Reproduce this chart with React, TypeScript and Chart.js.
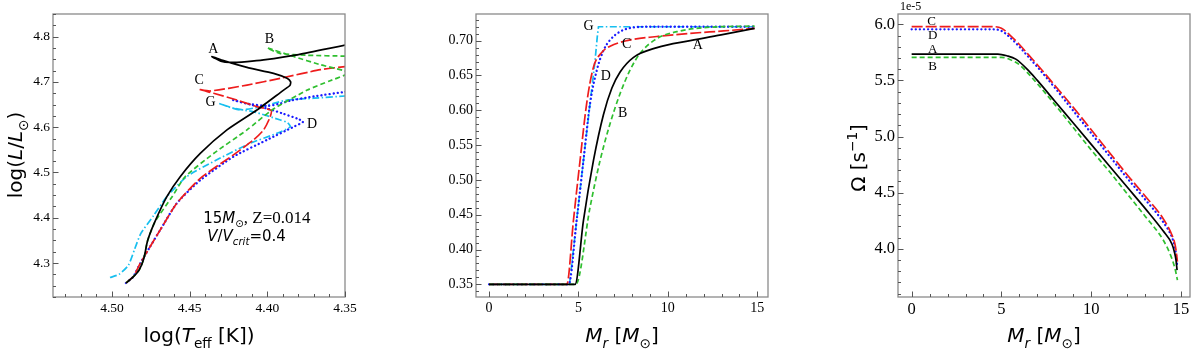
import React, { useEffect, useRef } from "react";
import { Chart, registerables } from "chart.js";
Chart.register(...registerables);

// ---------- Panel 1: HR diagram ----------
const HR_X_TICKS = [4.5, 4.45, 4.4, 4.35];
const HR_Y_TICKS = [4.3, 4.4, 4.5, 4.6, 4.7, 4.8];
const A_LOGT = [4.491, 4.4865, 4.4825, 4.4795, 4.4772, 4.4728, 4.4647, 4.4561, 4.4432, 4.426, 4.4067, 4.3895, 4.3855, 4.385, 4.3873, 4.396, 4.4131, 4.4282, 4.4357, 4.43, 4.4239, 4.413, 4.4024, 4.3809, 4.3497, 4.34];
const A_LOGL = [4.256, 4.269, 4.285, 4.31, 4.348, 4.388, 4.4465, 4.4907, 4.542, 4.594, 4.638, 4.682, 4.692, 4.7, 4.708, 4.719, 4.732, 4.747, 4.756, 4.746, 4.743, 4.745, 4.7485, 4.7596, 4.7817, 4.786];
const B_LOGT = [4.491, 4.4865, 4.4825, 4.4795, 4.4772, 4.4725, 4.4613, 4.4531, 4.4346, 4.4131, 4.397, 4.3743, 4.36, 4.35, 4.347, 4.3508, 4.3658, 4.383, 4.4, 4.392, 4.375, 4.35, 4.34];
const B_LOGL = [4.256, 4.269, 4.285, 4.31, 4.348, 4.39, 4.4465, 4.49, 4.542, 4.594, 4.638, 4.682, 4.702, 4.715, 4.72, 4.725, 4.738, 4.756, 4.775, 4.763, 4.759, 4.757, 4.757];
const C_LOGT = [4.491, 4.4863, 4.4819, 4.4755, 4.469, 4.4583, 4.4432, 4.4218, 4.4089, 4.4024, 4.3985, 4.3975, 4.4067, 4.4196, 4.4346, 4.4443, 4.4368, 4.4131, 4.3916, 4.3658, 4.3497, 4.34];
const C_LOGL = [4.256, 4.27, 4.299, 4.336, 4.373, 4.432, 4.487, 4.539, 4.572, 4.594, 4.62, 4.637, 4.6455, 4.66, 4.675, 4.684, 4.68, 4.693, 4.708, 4.727, 4.734, 4.738];
const D_LOGT = [4.491, 4.4863, 4.4819, 4.4755, 4.469, 4.4583, 4.4432, 4.4218, 4.4002, 4.383, 4.377, 4.38, 4.39, 4.4, 4.411, 4.422, 4.413, 4.4, 4.392, 4.385, 4.37, 4.35, 4.34];
const D_LOGL = [4.256, 4.27, 4.299, 4.336, 4.373, 4.432, 4.483, 4.535, 4.572, 4.601, 4.612, 4.618, 4.63, 4.641, 4.65, 4.66, 4.652, 4.647, 4.652, 4.659, 4.668, 4.678, 4.683];
const G_LOGT = [4.5013, 4.4955, 4.4895, 4.4855, 4.4815, 4.4734, 4.4647, 4.4518, 4.4325, 4.411, 4.3938, 4.3852, 4.387, 4.3916, 4.4089, 4.4218, 4.4315, 4.425, 4.4174, 4.4045, 4.3873, 4.37, 4.3497, 4.34];
const G_LOGL = [4.268, 4.275, 4.295, 4.33, 4.365, 4.404, 4.4465, 4.491, 4.528, 4.5645, 4.5866, 4.601, 4.61, 4.616, 4.634, 4.642, 4.653, 4.645, 4.638, 4.645, 4.66, 4.664, 4.669, 4.671];
const HR_LABELS = ["A", "B", "C", "G", "D"];
const HR_LABEL_T = [4.4348, 4.3987, 4.4439, 4.4365, 4.3712];
const HR_LABEL_L = [4.773, 4.793, 4.704, 4.656, 4.607];

// ---------- Panel 2: hydrogen profile ----------
const H_X_TICKS = [0, 5, 10, 15];
const H_Y_TICKS = [0.35, 0.4, 0.45, 0.5, 0.55, 0.6, 0.65, 0.7];
const A_HM = [0, 4.81, 5.28, 5.84, 6.4, 6.87, 7.33, 8.08, 9.39, 11.25, 13.12, 14.85];
const A_HX = [0.35, 0.35, 0.442, 0.528, 0.594, 0.632, 0.655, 0.676, 0.69, 0.7, 0.709, 0.7176];
const B_HM = [0, 4.85, 5.65, 6.21, 6.77, 7.33, 7.89, 8.45, 9.39, 10.69, 12.18, 14.85];
const B_HX = [0.35, 0.35, 0.461, 0.528, 0.581, 0.624, 0.658, 0.682, 0.703, 0.714, 0.719, 0.721];
const C_HM = [0, 4.35, 4.72, 5.09, 5.46, 5.84, 6.3, 6.77, 7.7, 9.39, 11.25, 13.12, 14.85];
const C_HX = [0.35, 0.35, 0.442, 0.528, 0.61, 0.662, 0.683, 0.692, 0.7, 0.706, 0.7105, 0.714, 0.7176];
const D_HM = [0, 4.45, 4.9, 5.28, 5.65, 6.03, 6.4, 6.77, 7.33, 8.08, 9.0, 14.85];
const D_HX = [0.35, 0.35, 0.442, 0.528, 0.61, 0.658, 0.686, 0.701, 0.713, 0.719, 0.72, 0.72];
const G_HM = [0, 4.5, 4.9, 5.28, 5.65, 5.93, 6.05, 6.12, 14.85];
const G_HX = [0.35, 0.35, 0.442, 0.528, 0.61, 0.672, 0.705, 0.72, 0.72];
const H_LABELS = ["G", "C", "A", "D", "B"];
const H_LABEL_M = [5.56, 7.7, 11.68, 6.53, 7.47];
const H_LABEL_X = [0.721, 0.695, 0.694, 0.649, 0.5956];

// ---------- Panel 3: angular velocity (units of 1e-5 s^-1) ----------
const W_X_TICKS = [0, 5, 10, 15];
const W_Y_TICKS = [4.0, 4.5, 5.0, 5.5, 6.0];
const A_WM = [0, 4.8, 5.3, 5.8, 6.5, 7, 8, 9, 10, 11, 12, 13, 14, 14.5, 14.65, 14.72, 14.78];
const A_WV = [5.735, 5.735, 5.72, 5.69, 5.59, 5.5, 5.31, 5.12, 4.93, 4.74, 4.55, 4.36, 4.16, 4.04, 3.96, 3.9, 3.81];
const B_WM = [0, 5.0, 5.5, 6, 6.5, 7, 8, 9, 10, 11, 12, 13, 14, 14.4, 14.6, 14.7, 14.8];
const B_WV = [5.706, 5.706, 5.685, 5.64, 5.56, 5.47, 5.28, 5.08, 4.88, 4.69, 4.49, 4.29, 4.08, 3.95, 3.86, 3.8, 3.72];
const C_WM = [0, 4.5, 5.0, 5.5, 6, 6.5, 7, 8, 9, 10, 11, 12, 13, 14, 14.5, 14.65, 14.72, 14.8];
const C_WV = [5.979, 5.979, 5.965, 5.9, 5.82, 5.73, 5.64, 5.45, 5.26, 5.06, 4.86, 4.66, 4.47, 4.27, 4.12, 4.05, 3.99, 3.885];
const D_WM = [0, 4.5, 5.0, 5.5, 6, 6.5, 7, 8, 9, 10, 11, 12, 13, 14, 14.5, 14.65, 14.72, 14.78];
const D_WV = [5.955, 5.955, 5.942, 5.88, 5.8, 5.71, 5.62, 5.43, 5.23, 5.03, 4.83, 4.63, 4.44, 4.24, 4.1, 4.02, 3.95, 3.855];
const W_LABELS = ["C", "D", "A", "B"];
const W_LABEL_M = [1.11, 1.17, 1.17, 1.17];
const W_LABEL_V = [6.023, 5.896, 5.777, 5.622];

// ---------- styles ----------
const SERIF = "'Liberation Serif', 'DejaVu Serif', serif";
const SANS = "'DejaVu Sans', sans-serif";
const STYLE: Record<string, { color: string; dash: number[]; cap: CanvasLineCap; width: number }> = {
  A: { color: "#000000", dash: [], cap: "butt", width: 1.7 },
  B: { color: "#2fbf2f", dash: [5, 3], cap: "butt", width: 1.7 },
  C: { color: "#ee1c1c", dash: [11, 3], cap: "butt", width: 1.7 },
  D: { color: "#1a1aff", dash: [0.1, 4], cap: "round", width: 2.3 },
  G: { color: "#17bfef", dash: [7, 2.5, 1.5, 2.5], cap: "butt", width: 1.7 },
};

type Seg = { t: string; it?: boolean; sub?: boolean; sup?: boolean; fam?: string; size?: number };

function drawRich(ctx: CanvasRenderingContext2D, segs: Seg[], x: number, y: number, size: number, fam: string, rot = 0, align = "center") {
  ctx.save();
  ctx.translate(x, y);
  ctx.rotate(rot);
  const fontFor = (s: Seg) => `${s.it ? "italic " : ""}${(s.sub || s.sup ? 0.68 : 1) * (s.size ?? size)}px ${s.fam ?? fam}`;
  let w = 0;
  for (const s of segs) {
    ctx.font = fontFor(s);
    w += ctx.measureText(s.t).width;
  }
  let cx = align === "center" ? -w / 2 : 0;
  ctx.textAlign = "left";
  ctx.textBaseline = "alphabetic";
  ctx.fillStyle = "#000";
  for (const s of segs) {
    ctx.font = fontFor(s);
    const dy = s.sub ? size * 0.28 : s.sup ? -size * 0.42 : 0;
    ctx.fillText(s.t, cx, dy);
    cx += ctx.measureText(s.t).width;
  }
  ctx.restore();
}

type Series = { name: string; x: number[]; y: number[] };
type Panel = {
  series: Series[];
  xMin: number; xMax: number; yMin: number; yMax: number; reverse: boolean;
  xTicks: number[]; yTicks: number[]; xDigits: number; yDigits: number;
  xMinor: number; yMinor: number;
  tickSize: number; yAxisWidth: number; rightPad: number;
  tension: number; mono: boolean;
  labels: string[]; labelX: number[]; labelY: number[]; labelSize: number;
  extra: (ctx: CanvasRenderingContext2D, chart: any) => void;
};

function minorValues(min: number, max: number, step: number) {
  const lo = Math.min(min, max), hi = Math.max(min, max);
  const out: number[] = [];
  for (let k = Math.ceil(lo / step - 1e-9); k * step <= hi + 1e-9; k++) out.push(k * step);
  return out;
}

function makeChart(canvas: HTMLCanvasElement, p: Panel) {
  const deco = {
    id: "deco",
    afterDraw(chart: any) {
      const { ctx, chartArea: a, scales } = chart;
      ctx.save();
      ctx.strokeStyle = "#8a8a8a";
      ctx.lineWidth = 1.3;
      ctx.strokeRect(a.left, a.top, a.right - a.left, a.bottom - a.top);
      ctx.strokeStyle = "#555";
      ctx.lineWidth = 1;
      const xs = scales.x, ys = scales.y;
      const isMajor = (v: number, arr: number[]) => arr.some((t) => Math.abs(t - v) < 1e-7);
      ctx.beginPath();
      for (const v of minorValues(p.xMin, p.xMax, p.xMinor)) {
        const px = Math.round(xs.getPixelForValue(v)) + 0.5;
        const len = isMajor(v, p.xTicks) ? 5.5 : 3;
        ctx.moveTo(px, a.bottom);
        ctx.lineTo(px, a.bottom - len);
      }
      for (const v of minorValues(p.yMin, p.yMax, p.yMinor)) {
        const py = Math.round(ys.getPixelForValue(v)) + 0.5;
        const len = isMajor(v, p.yTicks) ? 5.5 : 3;
        ctx.moveTo(a.left, py);
        ctx.lineTo(a.left + len, py);
      }
      ctx.stroke();
      ctx.fillStyle = "#000";
      ctx.font = `${p.labelSize}px ${SERIF}`;
      ctx.textAlign = "center";
      ctx.textBaseline = "middle";
      p.labels.forEach((t, i) => {
        ctx.fillText(t, xs.getPixelForValue(p.labelX[i]), ys.getPixelForValue(p.labelY[i]));
      });
      ctx.restore();
      p.extra(ctx, chart);
    },
  };

  return new Chart(canvas, {
    type: "scatter",
    data: {
      datasets: p.series.map((s) => {
        const st = STYLE[s.name];
        return {
          label: s.name,
          data: s.x.map((x, i) => ({ x, y: s.y[i] })),
          showLine: true,
          borderColor: st.color,
          backgroundColor: st.color,
          borderWidth: st.width,
          borderDash: st.dash,
          borderCapStyle: st.cap,
          pointRadius: 0,
          pointHoverRadius: 0,
          tension: s.name === "G" && p.mono ? 0 : p.tension,
          cubicInterpolationMode: p.mono && s.name !== "G" ? "monotone" : "default",
          fill: false,
        } as any;
      }),
    },
    options: {
      responsive: false,
      animation: false,
      devicePixelRatio: 1,
      events: [],
      layout: { padding: { left: 0, top: 14, right: p.rightPad, bottom: 0 } },
      plugins: { legend: { display: false }, tooltip: { enabled: false } },
      scales: {
        x: {
          type: "linear",
          min: p.xMin,
          max: p.xMax,
          reverse: p.reverse,
          grid: { display: false, drawTicks: false },
          border: { display: false },
          ticks: {
            color: "#000",
            font: { family: SERIF, size: p.tickSize },
            padding: 3,
            maxRotation: 0,
            autoSkip: false,
            callback: (v: any) => Number(v).toFixed(p.xDigits),
          },
          afterBuildTicks: (s: any) => {
            s.ticks = p.xTicks.map((value) => ({ value }));
          },
          afterFit: (s: any) => {
            s.height = 62;
          },
        },
        y: {
          type: "linear",
          min: p.yMin,
          max: p.yMax,
          grid: { display: false, drawTicks: false },
          border: { display: false },
          ticks: {
            color: "#000",
            font: { family: SERIF, size: p.tickSize },
            padding: 3,
            autoSkip: false,
            callback: (v: any) => Number(v).toFixed(p.yDigits),
          },
          afterBuildTicks: (s: any) => {
            s.ticks = p.yTicks.map((value) => ({ value }));
          },
          afterFit: (s: any) => {
            s.width = p.yAxisWidth;
          },
        },
      },
    } as any,
    plugins: [deco],
  });
}

const PANEL_HR: Panel = {
  series: [
    { name: "A", x: A_LOGT, y: A_LOGL },
    { name: "B", x: B_LOGT, y: B_LOGL },
    { name: "C", x: C_LOGT, y: C_LOGL },
    { name: "D", x: D_LOGT, y: D_LOGL },
    { name: "G", x: G_LOGT, y: G_LOGL },
  ],
  xMin: 4.35, xMax: 4.538, yMin: 4.225, yMax: 4.85, reverse: true,
  xTicks: HR_X_TICKS, yTicks: HR_Y_TICKS, xDigits: 2, yDigits: 1,
  xMinor: 0.01, yMinor: 0.025,
  tickSize: 13.5, yAxisWidth: 53, rightPad: 55,
  tension: 0.2, mono: false,
  labels: HR_LABELS, labelX: HR_LABEL_T, labelY: HR_LABEL_L, labelSize: 14,
  extra: (ctx, chart) => {
    const xs = chart.scales.x, ys = chart.scales.y;
    drawRich(ctx, [{ t: "log(" }, { t: "L", it: true }, { t: "/" }, { t: "L", it: true }, { t: "\u2299", sub: true }, { t: ")" }], 22, 155, 20, SANS, -Math.PI / 2);
    drawRich(ctx, [{ t: "log(" }, { t: "T", it: true }, { t: "eff", sub: true }, { t: " [K])" }], 199, 342, 20, SANS);
    drawRich(ctx, [{ t: "15" }, { t: "M", it: true }, { t: "\u2299", sub: true }, { t: ", Z=0.014", fam: SERIF, size: 17 }], xs.getPixelForValue(4.4413), ys.getPixelForValue(4.388), 15, SANS, 0, "left");
    drawRich(ctx, [{ t: "V", it: true }, { t: "/" }, { t: "V", it: true }, { t: "crit", it: true, sub: true }, { t: "=0.4" }], xs.getPixelForValue(4.4387), ys.getPixelForValue(4.3486), 15, SANS, 0, "left");
  },
};

const PANEL_H: Panel = {
  series: [
    { name: "A", x: A_HM, y: A_HX },
    { name: "B", x: B_HM, y: B_HX },
    { name: "C", x: C_HM, y: C_HX },
    { name: "D", x: D_HM, y: D_HX },
    { name: "G", x: G_HM, y: G_HX },
  ],
  xMin: -0.73, xMax: 15.6, yMin: 0.3318, yMax: 0.7383, reverse: false,
  xTicks: H_X_TICKS, yTicks: H_Y_TICKS, xDigits: 0, yDigits: 2,
  xMinor: 1, yMinor: 0.01,
  tickSize: 14, yAxisWidth: 76, rightPad: 32,
  tension: 0.4, mono: true,
  labels: H_LABELS, labelX: H_LABEL_M, labelY: H_LABEL_X, labelSize: 14,
  extra: (ctx) => {
    drawRich(ctx, [{ t: "1", sup: true }, { t: "H [mass frac.]" }], 437, 155, 18, SERIF, -Math.PI / 2);
    drawRich(ctx, [{ t: "M", it: true }, { t: "r", it: true, sub: true }, { t: " [" }, { t: "M", it: true }, { t: "\u2299", sub: true }, { t: "]" }], 222, 342, 20, SANS);
  },
};

const PANEL_W: Panel = {
  series: [
    { name: "A", x: A_WM, y: A_WV },
    { name: "B", x: B_WM, y: B_WV },
    { name: "C", x: C_WM, y: C_WV },
    { name: "D", x: D_WM, y: D_WV },
  ],
  xMin: -0.76, xMax: 15.5, yMin: 3.57, yMax: 6.092, reverse: false,
  xTicks: W_X_TICKS, yTicks: W_Y_TICKS, xDigits: 0, yDigits: 1,
  xMinor: 1, yMinor: 0.1,
  tickSize: 16.5, yAxisWidth: 98, rightPad: 10,
  tension: 0.4, mono: true,
  labels: W_LABELS, labelX: W_LABEL_M, labelY: W_LABEL_V, labelSize: 13,
  extra: (ctx) => {
    drawRich(ctx, [{ t: "\u03A9 [s" }, { t: "\u22121", sup: true }, { t: "]" }], 65, 158, 20, SANS, -Math.PI / 2);
    drawRich(ctx, [{ t: "M", it: true }, { t: "r", it: true, sub: true }, { t: " [" }, { t: "M", it: true }, { t: "\u2299", sub: true }, { t: "]" }], 244, 342, 20, SANS);
    ctx.save();
    ctx.fillStyle = "#000";
    ctx.font = `12px ${SERIF}`;
    ctx.textAlign = "left";
    ctx.textBaseline = "middle";
    ctx.fillText("1e-5", 100, 7);
    ctx.restore();
  },
};

function PanelCanvas({ panel, left }: { panel: Panel; left: number }) {
  const ref = useRef<HTMLCanvasElement | null>(null);
  useEffect(() => {
    if (!ref.current) return;
    const chart = makeChart(ref.current, panel);
    return () => chart.destroy();
  }, [panel]);
  return (
    <canvas
      ref={ref}
      width={400}
      height={359}
      style={{ position: "absolute", left, top: 0, width: 400, height: 359 }}
    />
  );
}

export default function App() {
  return (
    <div style={{ position: "fixed", left: 0, top: 0, width: 1200, height: 359, background: "#fff", overflow: "hidden" }}>
      <PanelCanvas panel={PANEL_HR} left={0} />
      <PanelCanvas panel={PANEL_H} left={400} />
      <PanelCanvas panel={PANEL_W} left={800} />
    </div>
  );
}
